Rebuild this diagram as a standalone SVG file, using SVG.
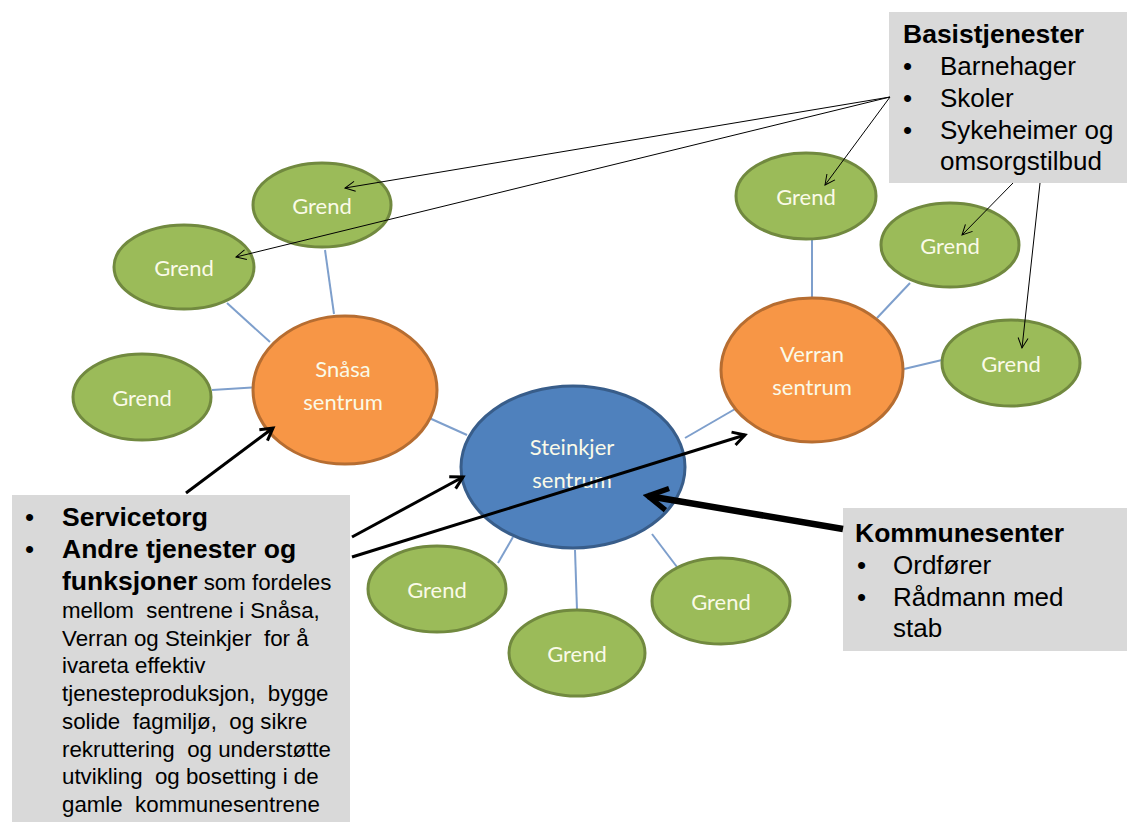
<svg xmlns="http://www.w3.org/2000/svg" width="1127" height="822" viewBox="0 0 1127 822">
<style>
.grend{fill:#9bbb59;stroke:#71893f;stroke-width:3}
.orange{fill:#f79646;stroke:#b66d31;stroke-width:3}
.blue{fill:#4f81bd;stroke:#385d8a;stroke-width:3}
.nt{font-family:Lato,"Open Sans",sans-serif;font-size:22px;fill:#fafae8;text-anchor:middle}
.link{stroke:#7e9fcc;stroke-width:2;fill:none}
.thin{stroke:#000;stroke-width:1;fill:none}
.thick{stroke:#000;stroke-width:3;fill:none}
.box{fill:#d9d9d9}
.t{font-family:"Liberation Sans",Arial,sans-serif;font-size:26px;fill:#000}
.b{font-weight:bold;font-size:26.5px}
.s{font-size:22.3px;white-space:pre}
</style>
<defs>
<marker id="ah" viewBox="0 0 12 12" refX="11" refY="6" markerWidth="12" markerHeight="12" markerUnits="userSpaceOnUse" orient="auto">
<path d="M1,1 L11,6 L1,11" fill="none" stroke="#000" stroke-width="1"/>
</marker>
<marker id="ahk" viewBox="0 0 12 12" refX="10" refY="6" markerWidth="6" markerHeight="6" orient="auto">
<path d="M2,1.5 L10,6 L2,10.5" fill="none" stroke="#000" stroke-width="2"/>
</marker>
<marker id="ahx" viewBox="0 0 12 12" refX="10" refY="6" markerWidth="4.5" markerHeight="4.5" orient="auto">
<path d="M2,1.5 L10,6 L2,10.5" fill="none" stroke="#000" stroke-width="2.2"/>
</marker>
</defs>
<rect width="1127" height="822" fill="#fff"/>

<g id="connectors">
<line class="link" x1="325" y1="250" x2="334" y2="314"/>
<line class="link" x1="227" y1="303" x2="270" y2="342"/>
<line class="link" x1="212" y1="390" x2="259" y2="387"/>
<line class="link" x1="427" y1="417" x2="467" y2="435"/>
<line class="link" x1="685" y1="438" x2="742" y2="405"/>
<line class="link" x1="812" y1="240" x2="812" y2="297"/>
<line class="link" x1="910" y1="283" x2="877" y2="318"/>
<line class="link" x1="942" y1="360" x2="904" y2="369"/>
<line class="link" x1="513" y1="537" x2="498" y2="563"/>
<line class="link" x1="575" y1="550" x2="577" y2="610"/>
<line class="link" x1="652" y1="534" x2="677" y2="567"/>
</g>

<g id="grend-tl1"><ellipse class="grend" cx="322" cy="205" rx="69" ry="42"/><text class="nt" x="322" y="214">Grend</text></g>
<g id="grend-tl2"><ellipse class="grend" cx="184" cy="267" rx="70" ry="42"/><text class="nt" x="184" y="276">Grend</text></g>
<g id="grend-l3"><ellipse class="grend" cx="142" cy="397" rx="69" ry="43"/><text class="nt" x="142" y="406">Grend</text></g>
<g id="snasa"><ellipse class="orange" cx="345" cy="390" rx="92" ry="74"/><text class="nt" x="343" y="377">Snåsa</text><text class="nt" x="343" y="410">sentrum</text></g>
<g id="steinkjer"><ellipse class="blue" cx="573" cy="467" rx="112" ry="81"/><text class="nt" x="572" y="455">Steinkjer</text><text class="nt" x="572" y="488">sentrum</text></g>
<g id="verran"><ellipse class="orange" cx="812" cy="370" rx="91" ry="72"/><text class="nt" x="812" y="362">Verran</text><text class="nt" x="812" y="395">sentrum</text></g>
<g id="grend-tr1"><ellipse class="grend" cx="806" cy="196" rx="70" ry="43"/><text class="nt" x="806" y="205">Grend</text></g>
<g id="grend-tr2"><ellipse class="grend" cx="950" cy="245" rx="69" ry="42"/><text class="nt" x="950" y="254">Grend</text></g>
<g id="grend-tr3"><ellipse class="grend" cx="1011" cy="363" rx="69" ry="43"/><text class="nt" x="1011" y="372">Grend</text></g>
<g id="grend-b1"><ellipse class="grend" cx="437" cy="589" rx="69" ry="43"/><text class="nt" x="437" y="598">Grend</text></g>
<g id="grend-b2"><ellipse class="grend" cx="577" cy="653" rx="68" ry="43"/><text class="nt" x="577" y="662">Grend</text></g>
<g id="grend-b3"><ellipse class="grend" cx="721" cy="601" rx="69" ry="43"/><text class="nt" x="721" y="610">Grend</text></g>

<g id="basistjenester">
<rect class="box" x="889" y="12" width="238" height="171"/>
<text class="t b" x="903" y="43">Basistjenester</text>
<text class="t" x="903" y="75">•</text><text class="t" x="940" y="75">Barnehager</text>
<text class="t" x="903" y="107">•</text><text class="t" x="940" y="107">Skoler</text>
<text class="t" x="903" y="139">•</text><text class="t" x="940" y="139">Sykeheimer og</text>
<text class="t" x="940" y="170">omsorgstilbud</text>
</g>

<g id="kommunesenter">
<rect class="box" x="843" y="508" width="284" height="143"/>
<text class="t b" x="855" y="542">Kommunesenter</text>
<text class="t" x="857" y="574">•</text><text class="t" x="893" y="574">Ordfører</text>
<text class="t" x="857" y="606">•</text><text class="t" x="893" y="606">Rådmann med</text>
<text class="t" x="893" y="637">stab</text>
</g>

<g id="servicetorg">
<rect class="box" x="12" y="495" width="338" height="327"/>
<text class="t" x="25" y="526">•</text><text class="t b" x="62" y="526">Servicetorg</text>
<text class="t" x="25" y="558">•</text><text class="t b" x="62" y="558">Andre tjenester og</text>
<text class="t" x="62" y="590"><tspan class="b">funksjoner</tspan><tspan class="s"> som fordeles</tspan></text>
<text class="t s" x="62" y="618">mellom  sentrene i Snåsa,</text>
<text class="t s" x="62" y="646">Verran og Steinkjer  for å</text>
<text class="t s" x="62" y="673">ivareta effektiv</text>
<text class="t s" x="62" y="701">tjenesteproduksjon,  bygge</text>
<text class="t s" x="62" y="729">solide  fagmiljø,  og sikre</text>
<text class="t s" x="62" y="757">rekruttering  og understøtte</text>
<text class="t s" x="62" y="784">utvikling  og bosetting i de</text>
<text class="t s" x="62" y="812">gamle  kommunesentrene</text>
</g>

<g id="arrows">
<line class="thin" x1="890" y1="97" x2="345" y2="188" marker-end="url(#ah)"/>
<line class="thin" x1="890" y1="97" x2="236" y2="257" marker-end="url(#ah)"/>
<line class="thin" x1="890" y1="97" x2="825" y2="185" marker-end="url(#ah)"/>
<line class="thin" x1="1013" y1="183" x2="962" y2="235" marker-end="url(#ah)"/>
<line class="thin" x1="1040" y1="183" x2="1022" y2="348" marker-end="url(#ah)"/>
<line class="thick" x1="186" y1="493" x2="273" y2="428" marker-end="url(#ahk)"/>
<line class="thick" x1="352" y1="537" x2="463" y2="477" marker-end="url(#ahk)"/>
<line class="thick" x1="352" y1="557" x2="745" y2="435" marker-end="url(#ahk)"/>
<line stroke="#000" stroke-width="6.5" fill="none" x1="843" y1="529" x2="648" y2="496" marker-end="url(#ahx)"/>
</g>
</svg>
